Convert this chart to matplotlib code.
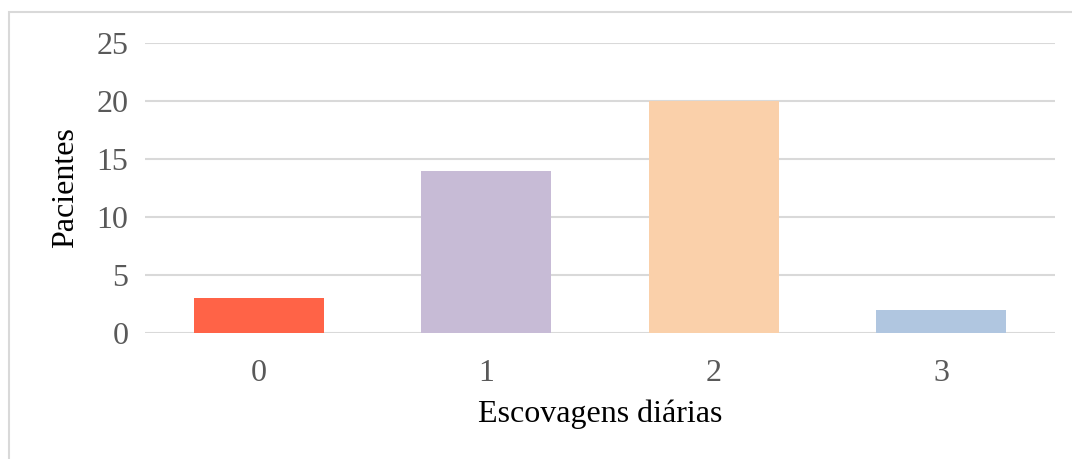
import matplotlib.pyplot as plt
from matplotlib.patches import Rectangle

categorias = ["0", "1", "2", "3"]
pacientes = [3, 14, 20, 2]
cores = ["#FF6347", "#C7BBD6", "#FAD0AA", "#B0C6E0"]
y_ticks = [0, 5, 10, 15, 20, 25]

plt.rcParams['font.family'] = ['Liberation Serif', 'DejaVu Serif']

fig = plt.figure(figsize=(10.72, 4.59), dpi=100)
W, H = 1072, 459
ax = fig.add_axes([145 / W, 1 - 333 / H, 910 / W, 290 / H])

x = range(len(categorias))
ax.bar(x, pacientes, width=0.57, color=cores, zorder=3)

ax.set_xlim(-0.5, len(categorias) - 0.5)
ax.set_ylim(0, 25)
ax.set_yticks(y_ticks)
ax.set_xticks(list(x))
ax.set_xticklabels(categorias)
ax.grid(axis='y', color='#D9D9D9', linewidth=1.5, zorder=0)
for s in ax.spines.values():
    s.set_visible(False)
ax.tick_params(length=0, labelsize=23, labelcolor='#595959')
ax.tick_params(axis='y', pad=12)
ax.tick_params(axis='x', pad=19)

ax.set_xlabel("Escovagens diárias", fontsize=23, color='black', labelpad=8)
ax.set_ylabel("Pacientes", fontsize=23, color='black', labelpad=12)

# moldura do gráfico
fig.patches.append(Rectangle((8.5 / W, -0.1), 1.2, 1 - 12.5 / H + 0.1,
                             transform=fig.transFigure, fill=False,
                             edgecolor='#D9D9D9', linewidth=1.5))

fig.savefig("out.png", dpi=100)
